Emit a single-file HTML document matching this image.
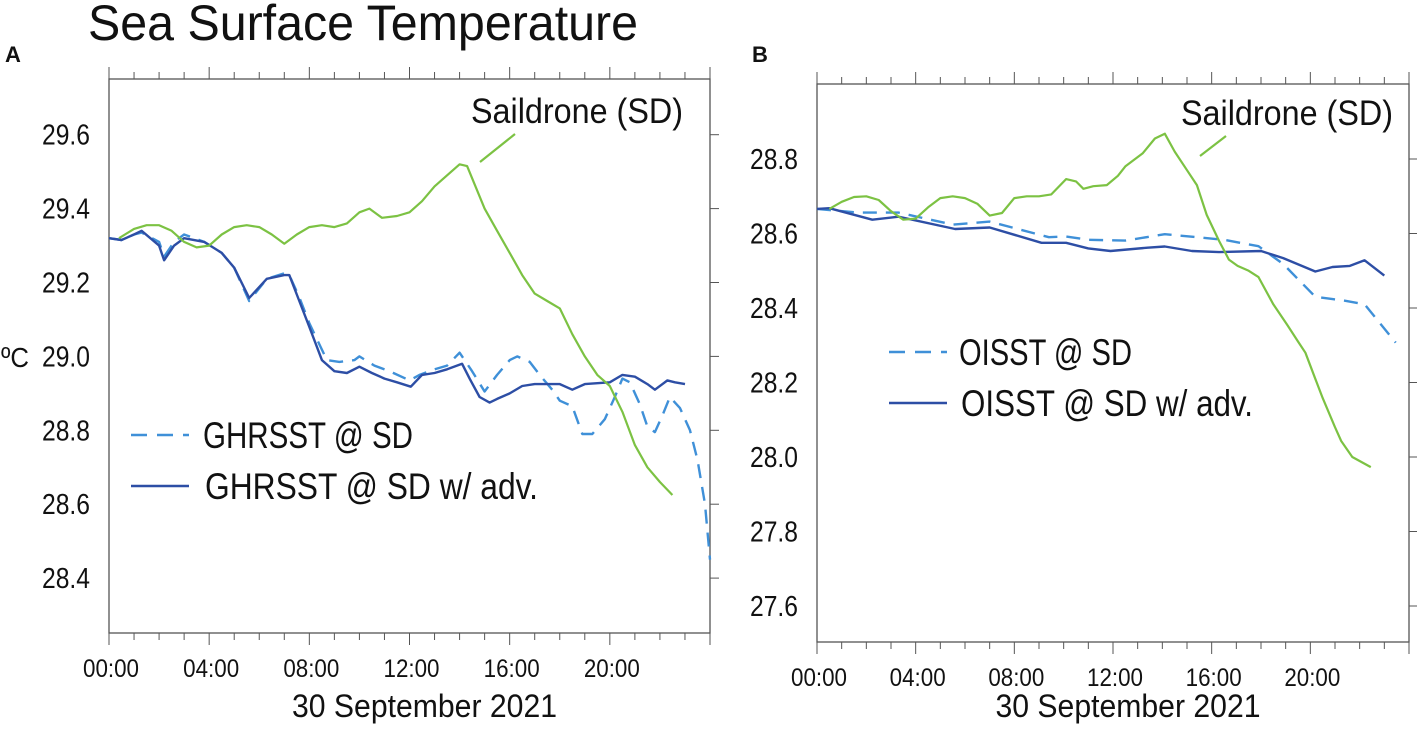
<!DOCTYPE html>
<html><head><meta charset="utf-8"><style>
body{margin:0;background:#fff;}
svg text{font-family:"Liberation Sans",sans-serif;fill:#111;}
</style></head><body>
<svg id="c" width="1417" height="724" viewBox="0 0 1417 724" xmlns="http://www.w3.org/2000/svg">
<text x="88" y="40" font-size="50" textLength="550" lengthAdjust="spacingAndGlyphs">Sea Surface Temperature</text>
<text x="5" y="62" font-size="22" font-weight="bold">A</text>
<text x="752" y="62" font-size="22" font-weight="bold">B</text>
<text x="1" y="367" font-size="28" textLength="28" lengthAdjust="spacingAndGlyphs">ºC</text>
<g id="pa"></g>
<g id="pb"></g>
</svg>
<script>
const hoursTicks=[0,4,8,12,16,20];
const tickLabelsX=["00:00","04:00","08:00","12:00","16:00","20:00"];
const aYTicks=[28.4,28.6,28.8,29.0,29.2,29.4,29.6];
const bYTicks=[27.6,27.8,28.0,28.2,28.4,28.6,28.8];
const aSailT=[0.4,1,1.5,2,2.5,3,3.5,4,4.5,5,5.5,6,6.5,7,7.5,8,8.5,9,9.5,10,10.4,10.9,11.5,12,12.5,13,13.5,14,14.3,15,15.5,16,16.5,17,17.5,18,18.5,19,19.5,20,20.5,21,21.5,22,22.5];
const aSailV=[29.32,29.345,29.355,29.355,29.34,29.31,29.295,29.30,29.33,29.35,29.355,29.35,29.33,29.305,29.33,29.35,29.355,29.35,29.36,29.39,29.40,29.375,29.38,29.39,29.42,29.46,29.49,29.52,29.515,29.40,29.34,29.28,29.22,29.17,29.15,29.13,29.06,29.00,28.95,28.92,28.85,28.76,28.70,28.66,28.625];
const aAdvT=[0,0.5,1,1.3,2,2.2,2.6,3,3.8,4.5,5,5.6,6.3,7,7.2,7.6,8,8.5,9,9.5,10,10.5,11,11.5,12.05,12.5,13,13.5,14.1,14.4,14.8,15.2,15.5,16,16.5,17,18,18.5,19,20,20.5,21,21.5,21.8,22.3,22.6,23];
const aAdvV=[29.32,29.315,29.33,29.34,29.30,29.26,29.30,29.32,29.31,29.28,29.24,29.158,29.21,29.22,29.22,29.15,29.08,28.99,28.96,28.955,28.972,28.955,28.94,28.93,28.918,28.95,28.955,28.965,28.98,28.94,28.89,28.875,28.885,28.90,28.92,28.925,28.925,28.91,28.925,28.93,28.95,28.945,28.925,28.91,28.935,28.93,28.925];
const aGhrT=[0,0.5,1,1.3,2,2.2,2.6,3,3.8,4.5,5,5.6,6.3,7,7.2,7.6,8,8.7,9.2,9.8,10,10.6,11.2,12,12.4,13,13.5,14,14.5,15,15.5,16,16.3,16.8,17.2,17.7,18,18.5,18.9,19.3,19.8,20.2,20.5,20.8,21.2,21.5,21.8,22.1,22.4,22.8,23.2,23.5,23.8,24];
const aGhrV=[29.32,29.315,29.33,29.335,29.31,29.27,29.31,29.33,29.31,29.28,29.24,29.15,29.21,29.225,29.22,29.16,29.09,28.99,28.985,28.99,29.00,28.975,28.96,28.935,28.95,28.965,28.975,29.01,28.96,28.905,28.95,28.99,29.00,28.985,28.95,28.91,28.88,28.865,28.79,28.79,28.83,28.89,28.94,28.93,28.87,28.81,28.795,28.84,28.89,28.86,28.80,28.72,28.60,28.45];
const bSailT=[0.5,1,1.5,2,2.5,3,3.5,4,4.5,5,5.5,6,6.5,7,7.5,8,8.5,9,9.5,10.1,10.5,10.8,11.2,11.75,12.2,12.5,13.2,13.7,14.1,14.5,15,15.4,15.8,16.3,16.7,17.05,17.5,17.9,18.5,19.07,19.5,19.8,20.2,20.5,21,21.25,21.7,22.45];
const bSailV=[28.666,28.685,28.698,28.70,28.69,28.66,28.637,28.64,28.67,28.695,28.70,28.695,28.68,28.648,28.655,28.695,28.70,28.70,28.705,28.746,28.74,28.72,28.727,28.73,28.755,28.78,28.815,28.855,28.868,28.82,28.77,28.73,28.65,28.58,28.53,28.513,28.50,28.483,28.41,28.354,28.31,28.28,28.21,28.158,28.08,28.043,28.0,27.973];
const bAdvT=[0,0.5,2.24,3.3,5.6,7.0,9.1,10.1,11.0,11.9,13.4,14.1,15.2,16.3,18,18.9,20.2,20.9,21.6,22.2,23];
const bAdvV=[28.666,28.668,28.637,28.645,28.612,28.616,28.575,28.575,28.56,28.553,28.562,28.565,28.553,28.55,28.553,28.534,28.498,28.51,28.513,28.528,28.487];
const bOiT=[0,1.7,3.3,5.5,7.0,9.4,10.1,11.0,12.5,14.1,15.4,16.5,17.9,18.9,20.2,20.9,21.45,22.2,23.46];
const bOiV=[28.666,28.656,28.656,28.624,28.632,28.59,28.592,28.583,28.581,28.598,28.59,28.583,28.566,28.518,28.43,28.424,28.419,28.41,28.307];

const NS="http://www.w3.org/2000/svg";
function mk(p,tag,at){const e=document.createElementNS(NS,tag);for(const k in at)e.setAttribute(k,at[k]);p.appendChild(e);return e;}

function panel(g,cfg){
  const X=h=>cfg.x0+h*(cfg.x1-cfg.x0)/24;
  const Y=v=>cfg.yRef+(cfg.vRef-v)/0.2*cfg.py;
  const frame=mk(g,'rect',{x:cfg.x0,y:cfg.top,width:cfg.x1-cfg.x0,height:cfg.bot-cfg.top,fill:'none',stroke:'#555','stroke-width':1.3});
  
  
  for(let h=0;h<=24;h++){
    const len=h%4===0?12:7;
    mk(g,'line',{x1:X(h),x2:X(h),y1:cfg.top,y2:cfg.top-len,stroke:'#555','stroke-width':1});
    mk(g,'line',{x1:X(h),x2:X(h),y1:cfg.bot,y2:cfg.bot+len,stroke:'#555','stroke-width':1});
  }
  hoursTicks.forEach((h,i)=>{
    const t=mk(g,'text',{x:X(h)+2,y:cfg.bot+44,'font-size':25,'text-anchor':'middle',textLength:56,lengthAdjust:'spacingAndGlyphs'});
    t.textContent=tickLabelsX[i];
    
    
  });
  cfg.yt.forEach(v=>{
    mk(g,'line',{x1:cfg.x1,x2:cfg.x1+9,y1:Y(v),y2:Y(v),stroke:'#555','stroke-width':1});
    const t=mk(g,'text',{x:cfg.x0-19,y:Y(v)+10,'font-size':29,'text-anchor':'end',textLength:48,lengthAdjust:'spacingAndGlyphs'});
    t.textContent=v.toFixed(1);
    
    
  });
  const xt=mk(g,'text',{x:(cfg.x0+cfg.x1)/2+15,y:717,'font-size':32,'text-anchor':'middle',textLength:265,lengthAdjust:'spacingAndGlyphs'});
  xt.textContent='30 September 2021';
  
  
  const line=(T,V,col,dash,w,name)=>{
    const d=T.map((h,i)=>(i?'L':'M')+X(h).toFixed(1)+','+Y(V[i]).toFixed(1)).join('');
    const p=mk(g,'path',{d:d,fill:'none',stroke:col,'stroke-width':w,'stroke-linejoin':'round'});
    if(dash)p.setAttribute('stroke-dasharray',dash);
    
    
  };
  line(cfg.dT,cfg.dV,'#3f90d8','14,9',2.4,'series-dashed');
  line(cfg.aT,cfg.aV,'#2d4ea5',null,2.4,'series-adv');
  line(cfg.sT,cfg.sV,'#7cc243',null,2.2,'series-saildrone');
  const sl=mk(g,'text',{x:cfg.sdX,y:cfg.sdY,'font-size':35,'text-anchor':'end',textLength:212,lengthAdjust:'spacingAndGlyphs'});
  sl.textContent='Saildrone (SD)';
  
  
  const ll=mk(g,'line',{x1:cfg.lead[0],y1:cfg.lead[1],x2:cfg.lead[2],y2:cfg.lead[3],stroke:'#7cc243','stroke-width':2.2});
  
  
  const lg=cfg.leg;
  mk(g,'line',{x1:lg.x,x2:lg.x+58,y1:lg.y1,y2:lg.y1,stroke:'#3f90d8','stroke-width':2.6,'stroke-dasharray':'16,10'});
  mk(g,'line',{x1:lg.x,x2:lg.x+58,y1:lg.y2,y2:lg.y2,stroke:'#2d4ea5','stroke-width':2.6});
  const t1=mk(g,'text',{x:lg.tx,y:lg.y1+13,'font-size':37,textLength:lg.w1,lengthAdjust:'spacingAndGlyphs'});
  t1.textContent=lg.l1;
  
  
  const t2=mk(g,'text',{x:lg.tx+2,y:lg.y2+13,'font-size':37,textLength:lg.w2,lengthAdjust:'spacingAndGlyphs'});
  t2.textContent=lg.l2;
  
  
}
panel(document.getElementById('pa'),{x0:109,x1:710,top:79,bot:633,yRef:134.7,vRef:29.6,py:73.9,yt:aYTicks,
  sT:aSailT,sV:aSailV,aT:aAdvT,aV:aAdvV,dT:aGhrT,dV:aGhrV,sdX:683,sdY:123,lead:[480,162,515,134],
  leg:{x:131,tx:203,y1:435,y2:486,l1:'GHRSST @ SD',l2:'GHRSST @ SD w/ adv.',w1:210,w2:333}});
panel(document.getElementById('pb'),{x0:817,x1:1409,top:84,bot:642,yRef:159,vRef:28.8,py:74.5,yt:bYTicks,
  sT:bSailT,sV:bSailV,aT:bAdvT,aV:bAdvV,dT:bOiT,dV:bOiV,sdX:1393,sdY:125,lead:[1200,156,1226,136],
  leg:{x:889,tx:959,y1:352,y2:403,l1:'OISST @ SD',l2:'OISST @ SD w/ adv.',w1:173,w2:292}});
</script>
</body></html>
